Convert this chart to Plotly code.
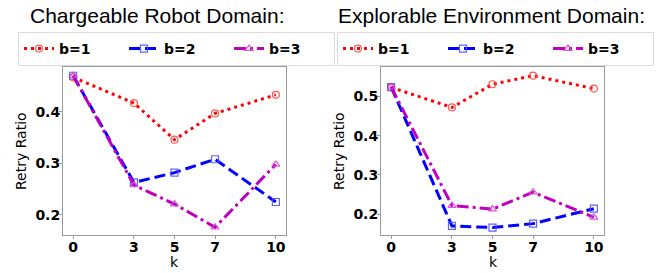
import plotly.graph_objects as go

k_values = [0, 3, 5, 7, 10]
k_tick_labels = ["0", "3", "5", "7", "10"]
series_names = ["b=1", "b=2", "b=3"]

robot_b1 = [0.467, 0.417, 0.346, 0.397, 0.433]
robot_b2 = [0.470, 0.263, 0.282, 0.308, 0.225]
robot_b3 = [0.470, 0.258, 0.221, 0.176, 0.298]

explore_b1 = [0.523, 0.472, 0.531, 0.553, 0.520]
explore_b2 = [0.524, 0.170, 0.166, 0.176, 0.214]
explore_b3 = [0.524, 0.222, 0.213, 0.256, 0.192]

panel_titles = ["Chargeable Robot Domain:", "Explorable Environment Domain:"]
x_title = "k"
y_title = "Retry Ratio"
robot_yticks = [0.2, 0.3, 0.4]
explore_yticks = [0.2, 0.3, 0.4, 0.5]

styles = [
    dict(color="#ff0000", mcolor="rgba(255,70,70,0.9)", dash="3px,4px", symbol="circle-open"),
    dict(color="#0000ff", mcolor="rgba(80,80,255,0.9)", dash="11px,5px", symbol="square-open"),
    dict(color="#bf00bf", mcolor="rgba(215,70,215,0.9)", dash="12px,4px,3px,4px", symbol="triangle-up-open"),
]

fig = go.Figure()

panels = [
    ([robot_b1, robot_b2, robot_b3], "x", "y", "legend"),
    ([explore_b1, explore_b2, explore_b3], "x2", "y2", "legend2"),
]
for series, xa, ya, lg in panels:
    for name, vals, st in zip(series_names, series, styles):
        fig.add_trace(go.Scatter(
            x=k_values, y=vals, name=name, xaxis=xa, yaxis=ya, legend=lg,
            mode="lines+markers",
            line=dict(color=st["color"], dash=st["dash"], width=3),
            marker=dict(symbol=st["symbol"], size=7, color=st["mcolor"],
                        line=dict(width=1.2, color=st["mcolor"])),
        ))

W, H = 661, 273
def px_x(v):
    return v / W
def px_y(v):
    return 1 - v / H

tickfont = dict(family="DejaVu Sans", size=14, color="black", weight="bold")
titlefont = dict(family="DejaVu Sans", size=14, color="black")
frame = "#9a9a9a"
common_x = dict(tickvals=k_values, ticktext=k_tick_labels, range=[-0.5, 10.5],
                showgrid=False, zeroline=False, showline=True, mirror=True,
                linecolor=frame, linewidth=1, ticks="outside", ticklen=3,
                tickcolor=frame, tickfont=tickfont, automargin=False,
                ticklabelstandoff=-4)
common_y = dict(showgrid=False, zeroline=False, showline=True, mirror=True,
                linecolor=frame, linewidth=1, ticks="outside", ticklen=3,
                tickcolor=frame, tickfont=tickfont, automargin=False,
                ticklabelstandoff=-4)

legend_common = dict(orientation="h", xanchor="left", yanchor="top",
                     bordercolor="#dcdcdc", borderwidth=1, font=tickfont,
                     entrywidth=60, bgcolor="white", tracegroupgap=0)

def title_ann(text, x, y, size, family, angle=0):
    return dict(text=text, x=px_x(x), y=px_y(y), xref="paper", yref="paper",
                xanchor="center", yanchor="middle", showarrow=False, textangle=angle,
                font=dict(family=family, size=size, color="black"))

fig.update_layout(
    width=W, height=H,
    margin=dict(l=0, r=0, t=0, b=0, autoexpand=False),
    paper_bgcolor="white", plot_bgcolor="white",
    xaxis=dict(domain=[px_x(63), px_x(286)], anchor="y", **common_x),
    yaxis=dict(domain=[px_y(235), px_y(67)], anchor="x", range=[0.161, 0.487],
               tickvals=robot_yticks, ticktext=[f"{v:.1f}" for v in robot_yticks], **common_y),
    xaxis2=dict(domain=[px_x(381), px_x(604)], anchor="y2", **common_x),
    yaxis2=dict(domain=[px_y(235), px_y(67)], anchor="x2", range=[0.147, 0.575],
                tickvals=explore_yticks, ticktext=[f"{v:.1f}" for v in explore_yticks], **common_y),
    showlegend=True,
    legend=dict(x=px_x(18), y=px_y(32), **legend_common),
    legend2=dict(x=px_x(337), y=px_y(32), **legend_common),
    annotations=[
        title_ann(panel_titles[0], 157, 15, 21, "Liberation Sans"),
        title_ann(panel_titles[1], 491, 15, 21, "Liberation Sans"),
        title_ann(x_title, 175, 262, 14, "DejaVu Sans"),
        title_ann(x_title, 493, 262, 14, "DejaVu Sans"),
        title_ann(y_title, 21, 151, 14, "DejaVu Sans", -90),
        title_ann(y_title, 339, 151, 14, "DejaVu Sans", -90),
    ],
)

fig.write_html("out.html", config={"displayModeBar": False},
               post_script="document.body.style.margin='0';")
